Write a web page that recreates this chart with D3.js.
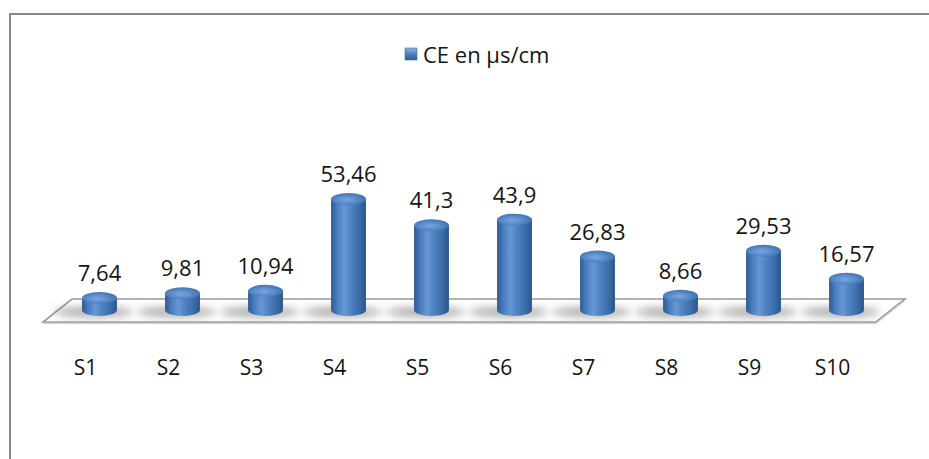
<!DOCTYPE html>
<html>
<head>
<meta charset="utf-8">
<script src="https://cdn.jsdelivr.net/npm/d3@7"></script>
<style>
  html, body { margin: 0; padding: 0; background: #fff; }
  #ce-chart { width: 929px; height: 459px; }
</style>
</head>
<body>
<div id="ce-chart"></div>
<script>
const CATEGORIES = ["S1", "S2", "S3", "S4", "S5", "S6", "S7", "S8", "S9", "S10"];
const CE_VALUES = [7.64, 9.81, 10.94, 53.46, 41.3, 43.9, 26.83, 8.66, 29.53, 16.57];
const SERIES_NAME = "CE en µs/cm";
const Y_DOMAIN = [0, 60];

(function initCeChart() {
  const W = 929, H = 459;
  const FONT = "'Open Sans', sans-serif";

  const svg = d3.select("#ce-chart").append("svg")
    .attr("width", W).attr("height", H)
    .style("font-family", FONT);

  const defs = svg.append("defs");

  // body gradient: dark edges, light strip left of centre
  const bodyGrad = defs.append("linearGradient").attr("id", "cyl-body")
    .attr("x1", "0%").attr("x2", "100%").attr("y1", "0%").attr("y2", "0%");
  [["0%", "#2d5a93"], ["18%", "#4a7dbf"], ["38%", "#6797d4"], ["60%", "#4d80c0"], ["88%", "#35669f"], ["100%", "#2a5388"]]
    .forEach(([o, c]) => bodyGrad.append("stop").attr("offset", o).attr("stop-color", c));

  const topGrad = defs.append("radialGradient").attr("id", "cyl-top")
    .attr("cx", "45%").attr("cy", "55%").attr("r", "60%");
  [["0%", "#7aa6de"], ["60%", "#5486c6"], ["100%", "#3e6fae"]]
    .forEach(([o, c]) => topGrad.append("stop").attr("offset", o).attr("stop-color", c));

  const legGrad = defs.append("linearGradient").attr("id", "leg-grad")
    .attr("x1", "0%").attr("x2", "0%").attr("y1", "0%").attr("y2", "100%");
  [["0%", "#8fb4e3"], ["50%", "#4f81bd"], ["100%", "#2f5d96"]]
    .forEach(([o, c]) => legGrad.append("stop").attr("offset", o).attr("stop-color", c));

  defs.append("filter").attr("id", "soft").attr("x", "-50%").attr("y", "-100%")
    .attr("width", "200%").attr("height", "300%")
    .append("feGaussianBlur").attr("stdDeviation", 4);

  /* chart area border (runs off the right and bottom) */
  svg.append("rect").attr("x", 10).attr("y", 14).attr("width", 960).attr("height", 500)
    .attr("fill", "none").attr("stroke", "#8a8a8a").attr("stroke-width", 2);

  /* scales */
  const x = d3.scaleBand().domain(CATEGORIES).range([58, 888]).paddingInner(0.58).paddingOuter(0.29);
  const base = 310;                       // floor plane, bottom ellipse centre
  const y = d3.scaleLinear().domain(Y_DOMAIN).range([314.5, 314.5 - 60 * 2.16]);
  const rx = x.bandwidth() / 2, ry = 6;
  const cx = d => x(d) + rx;

  /* floor */
  const [r0, r1] = x.range();
  const floorBack = 299, floorFront = 322, depth = floorFront - floorBack;
  const floorPts = [[r0 + 14, floorBack], [r1 + 17, floorBack], [r1 + 17 - depth - 6, floorFront], [r0 + 14 - depth - 6, floorFront]];
  svg.append("path")
    .attr("d", "M" + floorPts.map(p => p.join(",")).join("L") + "Z")
    .attr("fill", "#fff").attr("stroke", "#9c9c9c").attr("stroke-width", 1.6);
  svg.append("path")
    .attr("d", `M${floorPts[3][0]},${floorFront + 1.5}L${floorPts[2][0]},${floorFront + 1.5}L${floorPts[1][0]},${floorBack + 1.5}`)
    .attr("fill", "none").attr("stroke", "#d0d0d0").attr("stroke-width", 1.2);

  /* shadows on the floor */
  svg.append("g").attr("filter", "url(#soft)").selectAll("ellipse").data(CATEGORIES).enter().append("ellipse")
    .attr("cx", d => cx(d) - 6).attr("cy", base + 2)
    .attr("rx", rx + 22).attr("ry", 5)
    .attr("fill", "#6e6e6e").attr("opacity", 0.6);

  /* cylinders */
  const rows = CATEGORIES.map((c, i) => ({ cat: c, v: CE_VALUES[i] }));
  const cyl = svg.append("g").selectAll("g").data(rows).enter().append("g");

  cyl.append("path")
    .attr("d", d => {
      const l = x(d.cat), r = l + 2 * rx, t = y(d.v);
      return `M${l},${t}L${l},${base}A${rx},${ry} 0 0 0 ${r},${base}L${r},${t}Z`;
    })
    .attr("fill", "url(#cyl-body)");

  cyl.append("ellipse")
    .attr("cx", d => cx(d.cat)).attr("cy", d => y(d.v))
    .attr("rx", rx).attr("ry", ry)
    .attr("fill", "url(#cyl-top)");

  /* value labels */
  svg.append("g").selectAll("text").data(rows).enter().append("text")
    .attr("x", d => cx(d.cat)).attr("y", d => y(d.v) - 26)
    .attr("text-anchor", "middle").attr("dominant-baseline", "central")
    .style("font-size", "22px").style("fill", "#141414")
    .text(d => String(d.v).replace(".", ","));

  /* category axis labels */
  svg.append("g").selectAll("text").data(CATEGORIES).enter().append("text")
    .attr("x", d => cx(d) - 14).attr("y", 367)
    .attr("text-anchor", "middle").attr("dominant-baseline", "central")
    .style("font-size", "21px").style("fill", "#141414")
    .text(d => d);

  /* legend */
  const legend = svg.append("g").attr("transform", "translate(405,48)");
  legend.append("rect").attr("width", 12).attr("height", 12)
    .attr("fill", "url(#leg-grad)").attr("stroke", "#3a6aa6").attr("stroke-width", 0.6);
  legend.append("text").attr("x", 18).attr("y", 6).attr("dominant-baseline", "central")
    .style("font-size", "22px").style("fill", "#141414")
    .text(SERIES_NAME);
})();
</script>
</body>
</html>
